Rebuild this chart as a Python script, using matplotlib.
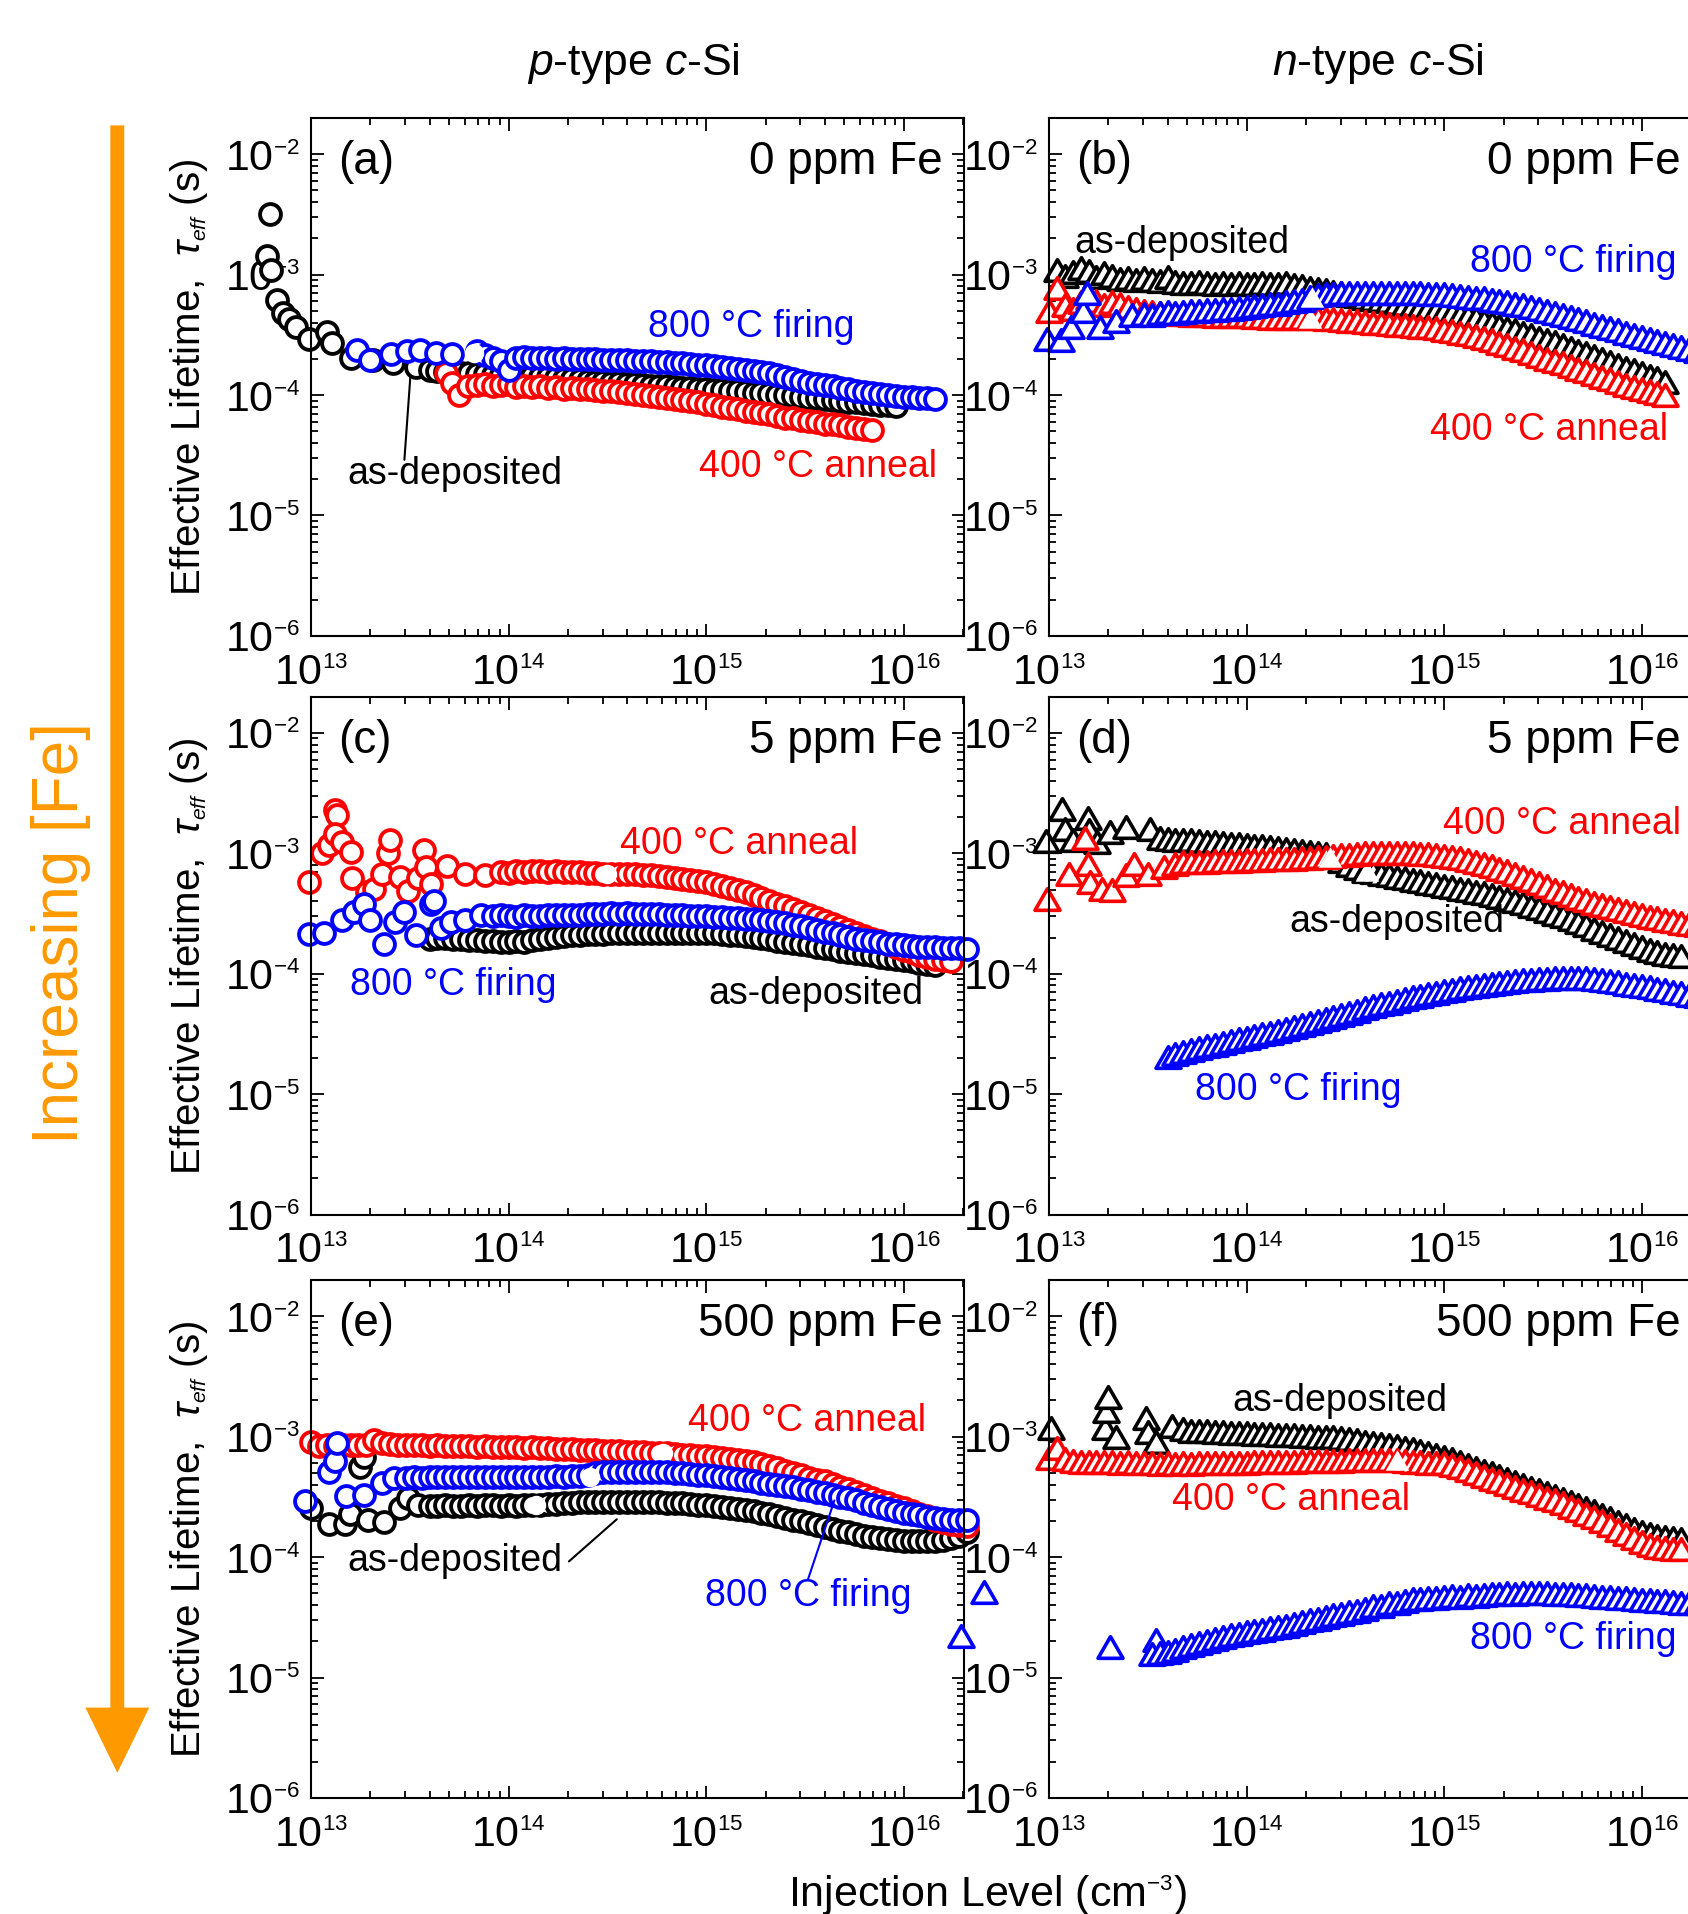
import numpy as np
import matplotlib
matplotlib.use("Agg")
import matplotlib.pyplot as plt
import matplotlib._mathtext as mathtext_internal
from matplotlib.path import Path
from matplotlib.markers import MarkerStyle
from matplotlib.patches import FancyArrowPatch
from matplotlib.ticker import LogLocator, NullFormatter

plt.rcParams['font.family'] = ['Liberation Sans', 'DejaVu Sans']
plt.rcParams['mathtext.fontset'] = 'custom'
plt.rcParams['mathtext.rm'] = 'Liberation Sans'
plt.rcParams['mathtext.it'] = 'Liberation Sans:italic'
plt.rcParams['mathtext.bf'] = 'Liberation Sans:bold'
# smaller exponents, as in the original figure
mathtext_internal.SHRINK_FACTOR = 0.52

# injection levels (cm^-3) of the dense high-injection sweeps
N_grid = [1.000e13, 1.096e13, 1.202e13, 1.318e13, 1.445e13, 1.585e13, 1.738e13, 1.905e13, 2.089e13, 2.291e13,
          2.512e13, 2.754e13, 3.020e13, 3.311e13, 3.631e13, 3.981e13, 4.365e13, 4.786e13, 5.248e13, 5.754e13,
          6.310e13, 6.918e13, 7.586e13, 8.318e13, 9.120e13,
          1.000e14, 1.096e14, 1.202e14, 1.318e14, 1.445e14, 1.585e14, 1.738e14, 1.905e14, 2.089e14, 2.291e14,
          2.512e14, 2.754e14, 3.020e14, 3.311e14, 3.631e14, 3.981e14, 4.365e14, 4.786e14, 5.248e14, 5.754e14,
          6.310e14, 6.918e14, 7.586e14, 8.318e14, 9.120e14,
          1.000e15, 1.096e15, 1.202e15, 1.318e15, 1.445e15, 1.585e15, 1.738e15, 1.905e15, 2.089e15, 2.291e15,
          2.512e15, 2.754e15, 3.020e15, 3.311e15, 3.631e15, 3.981e15, 4.365e15, 4.786e15, 5.248e15, 5.754e15,
          6.310e15, 6.918e15, 7.586e15, 8.318e15, 9.120e15,
          1.000e16, 1.096e16, 1.202e16, 1.318e16, 1.445e16, 1.585e16, 1.738e16, 1.905e16, 2.089e16]

# lifetimes in microseconds; *_N / *_tau = scattered low-injection points,
# *_start / *_hi = dense sweep starting at that injection level on N_grid

# (a) p-type, 0 ppm Fe
a_dep_N = [6.2e12, 6.0e12, 6.3e12, 6.7e12, 7.2e12, 7.7e12, 8.4e12, 9.8e12, 1.21e13, 1.27e13, 1.60e13, 2.05e13, 2.60e13, 3.40e13]
a_dep_tau = [3200, 1430, 1100, 610, 480, 430, 370, 290, 335, 270, 205, 197, 184, 171]
a_dep_start = 3.981e13
a_dep_hi = [160, 158, 156, 155, 153, 152, 150, 149, 147, 146, 145, 147, 143, 144, 141, 140, 138, 137, 135, 133,
            130, 129, 128, 126, 125, 124, 123, 121, 120, 119, 118, 117, 115, 114, 113, 112, 111, 110, 109, 108,
            107, 105, 104, 102, 101, 100, 98, 97, 95, 94, 93, 91, 90, 88, 87, 86, 84, 83, 82, 81]
a_ann_N = [4.8e13, 5.2e13, 5.6e13, 6.25e13]
a_ann_tau = [152, 125, 100, 120]
a_ann_start = 6.918e13
a_ann_hi = [122, 124, 118, 121, 123, 117, 120, 116, 118, 115, 117, 113, 114, 112, 112, 111, 109, 108, 106,
            104, 103, 101, 99, 97, 95, 93, 91, 89, 87, 85, 83, 80, 78, 76, 74, 72, 71, 69, 67,
            65, 64, 62, 61, 60, 58, 57, 56, 54, 53, 52, 51]
a_fir_N = [1.70e13, 1.99e13, 2.55e13, 3.07e13, 3.58e13, 4.31e13, 5.19e13]
a_fir_tau = [235, 197, 219, 232, 238, 222, 219]
a_fir_start = 6.918e13
a_fir_hi = [232, 215, 204, 190, 160, 204, 206, 203, 205, 202, 200, 203, 199, 200, 198, 199, 196, 197, 195,
            194, 192, 193, 190, 189, 187, 185, 184, 182, 179, 176, 173, 170, 167, 163, 160, 157, 154, 151, 147,
            142, 137, 132, 127, 124, 122, 118, 115, 112, 109, 107, 104, 102, 100, 98, 97, 96, 95, 94, 93]
a_fir_joint = (6.65e13, 224)

# (b) n-type, 0 ppm Fe
b_dep_N, b_dep_tau = [], []
b_dep_start = 1.096e13
b_dep_hi = [1100, 980, 1050, 1130, 1080, 950, 1030, 980, 920, 930, 900, 940, 900, 880, 960, 870, 860, 850, 870,
            850, 840, 860, 830, 850, 840, 830, 850, 830, 840, 850, 820, 800, 780, 760, 740, 720, 700, 680, 660,
            645, 630, 615, 600, 585, 570, 555, 540, 525, 510, 495, 480, 465, 450, 435, 415, 395, 378, 362, 346,
            330, 315, 300, 287, 274, 260, 247, 234, 222, 210, 199, 188, 178, 168, 160, 152, 145, 138, 129]
b_ann_N, b_ann_tau = [], []
b_ann_start = 1.000e13
b_ann_hi = [500, 780, 560, 520, 590, 640, 600, 560, 590, 570, 540, 520, 500, 490, 480, 480, 470, 470, 465, 460,
            460, 455, 455, 450, 450, 450, 445, 445, 440, 440, 440, 440, 440, 440, 435, 430, 425, 420, 415, 410,
            405, 400, 395, 390, 385, 380, 375, 370, 365, 360, 350, 340, 330, 320, 308, 296, 284, 272, 260, 248,
            236, 224, 212, 200, 192, 185, 175, 166, 157, 149, 142, 135, 128, 122, 117, 112, 108, 104, 101]
b_ann_joint = (2.09e14, 440)
b_fir_N = [9.8e12, 1.15e13, 1.29e13, 1.48e13, 1.55e13, 1.82e13, 2.19e13, 2.63e13]
b_fir_tau = [290, 285, 370, 500, 700, 370, 410, 460]
b_fir_start = 3.020e13
b_fir_hi = [470, 465, 480, 485, 480, 490, 495, 500, 510, 505, 515, 520, 525, 540, 545, 560, 570, 575,
            590, 600, 610, 650, 680, 690, 695, 700, 700, 705, 705, 710, 710, 710, 705, 705, 700, 700, 695, 690,
            685, 675, 665, 655, 645, 635, 620, 605, 590, 575, 560, 540, 520, 500, 480, 460, 445, 425, 410, 390,
            375, 360, 345, 330, 318, 305, 293, 280, 270, 260, 250, 240, 232, 224]
b_fir_joint = (2.14e14, 650)

# (c) p-type, 5 ppm Fe
c_dep_N, c_dep_tau = [], []
c_dep_start = 3.981e13
c_dep_hi = [195, 198, 200, 196, 194, 192, 190, 188, 186, 185, 184, 186, 182, 190, 195, 198, 202, 205, 208, 210,
            212, 214, 215, 216, 217, 218, 218, 219, 219, 220, 220, 220, 219, 219, 218, 218, 216, 214, 211, 208,
            205, 201, 197, 193, 188, 184, 180, 176, 172, 168, 164, 160, 156, 152, 148, 145, 142, 139, 136, 133,
            130, 127, 124, 121, 119]
c_ann_N = [9.8e12, 1.14e13, 1.23e13, 1.33e13, 1.35e13, 1.33e13, 1.43e13, 1.59e13, 1.62e13, 1.91e13, 2.09e13, 2.29e13,
           2.45e13, 2.51e13, 2.82e13, 3.09e13, 3.47e13, 3.72e13, 3.80e13, 4.07e13, 4.90e13, 6.03e13, 7.59e13]
c_ann_tau = [580, 1000, 1170, 2270, 2100, 1460, 1240, 1030, 620, 480, 510, 680,
             1000, 1290, 640, 490, 620, 1060, 770, 560, 790, 680, 660]
c_ann_start = 9.120e13
c_ann_hi = [700, 690, 720, 700, 710, 720, 700, 710, 705, 700, 695, 690, 690, 680, 680, 680, 675, 670, 665, 655, 645,
            635, 625, 615, 600, 590, 575, 560, 540, 520, 498, 475, 452, 428, 405, 383, 362, 342, 323, 305, 289,
            273, 258, 244, 231, 219, 207, 196, 186, 176, 167, 159, 151, 144, 138, 133, 130, 128]
c_ann_joint = (3.16e14, 680)
c_fir_N = [9.8e12, 1.17e13, 1.43e13, 1.66e13, 1.85e13, 2.00e13, 2.34e13, 2.66e13, 2.95e13, 3.39e13, 4.07e13, 4.17e13,
           4.57e13, 5.13e13, 6.03e13, 7.24e13]
c_fir_tau = [215, 220, 277, 326, 380, 277, 178, 270, 326, 210, 380, 405, 238, 270, 277, 310]
c_fir_start = 8.318e13
c_fir_hi = [300, 305, 300, 298, 305, 300, 303, 305, 308, 306, 310, 308, 312, 315, 313, 318, 316,
            318, 316, 315, 314, 312, 310, 308, 306, 304, 302, 300, 298, 296, 293, 290, 287, 283, 279, 274, 268,
            262, 255, 248, 240, 232, 224, 216, 209, 202, 196, 191, 186, 182, 178, 175, 172, 170, 168, 167, 166,
            165, 164, 163, 162]

# (d) n-type, 5 ppm Fe
d_dep_N = [9.7e12, 1.17e13, 1.20e13, 1.32e13, 1.57e13, 1.60e13, 1.75e13, 2.04e13, 2.45e13, 3.24e13]
d_dep_tau = [1260, 2350, 1600, 1300, 1950, 1550, 1250, 1500, 1660, 1600]
d_dep_start = 3.631e13
d_dep_hi = [1350, 1320, 1300, 1290, 1280, 1270, 1250, 1240, 1220, 1200, 1190, 1170, 1150, 1140, 1120, 1100,
            1080, 1060, 1050, 1030, 1010, 990, 930, 860, 800, 750, 720, 700, 680, 660, 640, 620, 600, 585, 570, 555,
            540, 525, 510, 495, 480, 465, 448, 432, 415, 400, 385, 368, 350, 333, 316, 300, 284, 268, 252, 237,
            223, 210, 198, 186, 175, 166, 158, 152, 147, 143, 140]
d_dep_joint = (4.07e14, 720)
d_ann_N = [9.8e12, 1.26e13, 1.53e13, 1.57e13, 1.62e13, 1.86e13, 2.09e13, 2.45e13, 2.69e13, 3.16e13, 3.80e13]
d_ann_tau = [420, 680, 1350, 820, 580, 510, 500, 660, 820, 680, 770]
d_ann_start = 4.365e13
d_ann_hi = [820, 850, 840, 850, 855, 860, 865, 870, 870, 875, 880, 885, 890, 895, 900, 905, 910, 915, 925,
            930, 945, 960, 975, 990, 1000, 1010, 1015, 1015, 1010, 1005, 1000, 990, 980, 970,
            955, 935, 910, 880, 850, 815, 780, 745, 710, 675, 640, 605, 570, 535, 500,
            475, 450, 428, 408, 390, 373, 357, 343, 330, 318, 307, 297, 288, 280, 272, 265, 258, 252, 246]
d_ann_joint = (2.63e14, 930)
d_fir_N, d_fir_tau = [], []
d_fir_start = 3.981e13
d_fir_hi = [20.4, 21.5, 22.4, 23.3, 24.2, 25.0, 25.8, 26.6, 27.5, 28.5, 29.5, 30.5, 31.5, 32.5, 33.6,
            34.8, 36.0, 37.4, 38.8, 40.3, 42.0, 43.8, 45.6, 47.5, 49.5, 51.5, 53.6, 55.6, 57.6, 59.6,
            61.7, 63.8, 65.8, 67.8, 69.8, 72, 74, 76, 77.5, 79, 80.5, 82, 83.5, 85, 86.5,
            88, 89, 90, 91, 91.5, 92, 92, 92, 91.5, 91, 89, 87, 85, 83, 81, 79, 77, 75, 73, 71, 69, 67, 65, 63]

# (e) p-type, 500 ppm Fe
e_dep_N = [1.00e13, 1.23e13, 1.48e13, 1.58e13, 1.78e13, 1.86e13, 1.95e13, 2.34e13, 2.82e13, 3.09e13, 3.47e13]
e_dep_tau = [254, 190, 190, 230, 560, 680, 204, 197, 254, 310, 270]
e_dep_start = 3.981e13
e_dep_hi = [268, 265, 270, 266, 268, 270, 267, 269, 271, 268, 270, 268, 272, 270, 270, 275, 278, 280, 282, 284,
            285, 286, 287, 287, 288, 288, 288, 287, 286, 285, 283, 281, 279, 276, 273, 270, 266, 262, 257, 252,
            246, 240, 233, 226, 219, 212, 205, 198, 191, 184, 178, 172, 166, 161, 156, 151, 147, 143, 140, 138,
            137, 136, 136, 136, 137, 139, 143, 150, 160]
e_dep_joint = (1.38e14, 270)
e_ann_N, e_ann_tau = [], []
e_ann_start = 1.000e13
e_ann_hi = [910, 830, 860, 840, 855, 850, 845, 860, 930, 880, 870, 860, 850, 855, 845, 840, 845, 835, 840, 830,
            835, 825, 830, 820, 825, 815, 820, 810, 815, 805, 800, 795, 790, 785, 780, 775, 770, 765, 760, 755,
            750, 745, 740, 735, 730, 725, 718, 710, 703, 697, 690, 680, 668, 656, 645, 632, 612, 590, 568, 545,
            522, 500, 478, 456, 438, 425, 405, 385, 365, 345, 327, 310, 294, 280, 268, 255, 243, 230, 218, 205,
            196, 190, 185, 180]
e_ann_joint = (6.03e14, 730)
e_fir_N = [9.3e12, 1.23e13, 1.32e13, 1.36e13, 1.51e13, 1.86e13, 2.29e13, 2.63e13]
e_fir_tau = [290, 510, 630, 880, 320, 330, 410, 450]
e_fir_start = 3.020e13
e_fir_hi = [455, 460, 455, 458, 462, 460, 458, 462, 460, 463, 460, 462, 465, 463, 465, 462, 466, 464,
            466, 468, 465, 470, 472, 480, 500, 505, 510, 510, 512, 512, 512, 510, 510, 505, 500, 495, 490, 483,
            476, 468, 460, 452, 444, 435, 426, 416, 406, 396, 388, 379, 370, 360, 350, 340, 330, 318, 307, 295,
            283, 272, 261, 251, 242, 234, 228, 222, 216, 211, 207, 204, 202, 205]
e_fir_joint = (2.57e14, 460)

# (f) n-type, 500 ppm Fe
f_dep_N = [1.02e13, 1.91e13, 1.95e13, 2.00e13, 2.19e13, 3.09e13, 3.16e13, 3.47e13, 4.17e13]
f_dep_tau = [1180, 1170, 1620, 2120, 1000, 1430, 1100, 910, 1220]
f_dep_start = 4.786e13
f_dep_hi = [1150, 1120, 1110, 1110, 1100, 1090, 1080, 1070, 1070, 1060, 1060, 1050, 1040, 1040, 1030, 1020, 1010, 1000,
            1000, 990, 970, 950, 930, 910, 890, 870, 860, 840, 810, 785, 760, 735, 710, 680, 650, 615, 580, 548,
            520, 495, 470, 445, 420, 398, 378, 358, 340, 322, 305, 288, 271, 255, 240, 225, 210, 196, 183, 172,
            163, 156, 151, 147, 144, 142]
f_ann_N, f_ann_tau = [], []
f_ann_start = 1.000e13
f_ann_hi = [660, 800, 650, 630, 620, 615, 620, 610, 615, 605, 610, 600, 605, 600, 598, 600, 597, 600, 598, 600,
            602, 600, 603, 605, 607, 608, 610, 612, 614, 616, 618, 620, 622, 624, 626, 628, 630, 632, 634, 636,
            638, 640, 642, 642, 640, 630, 620, 612, 605, 600, 600, 585, 560, 530, 500, 472, 448, 425, 402, 382,
            362, 345, 328, 312, 296, 280, 262, 245, 230, 215, 200, 183, 168, 155, 143, 134, 127, 122, 118, 116, 116]
f_ann_joint = (5.75e14, 640)
f_fir_N = [3.6e12, 4.7e12, 2.04e13, 3.47e13]
f_fir_tau = [22, 51, 18, 20.4]
f_fir_start = 3.311e13
f_fir_hi = [15.8, 16.0, 16.3, 17.0, 17.8, 18.5, 19.2, 20.2, 21.0, 21.8, 22.4, 23.0, 23.8, 24.4, 25.0, 25.6, 26.2,
            27.0, 27.8, 28.8, 29.8, 30.8, 31.8, 33.2, 33.8, 35.2, 35.8, 37.0, 39.0, 39.4, 41.4, 41.8,
            43.0, 44.5, 44.6, 46.0, 45.8, 46.2, 47.4, 47.0, 48.2, 47.8, 48.2, 49.4, 49.0, 50.2, 49.7,
            50.0, 50.8, 50.0, 50.6, 49.6, 49.2, 49.6, 48.3, 48.6, 47.3, 46.8, 47.0, 45.8, 45.8, 44.6,
            44.0, 44.2, 43.0, 43.2, 42.2, 41.8, 41.9, 41.2, 41.0]

BLACK, RED, BLUE = '#000000', '#ff0000', '#0000ff'
ORANGE = '#ff9900'
TRI = MarkerStyle(Path([(-1, -0.866), (1, -0.866), (0, 0.866), (-1, -0.866)], closed=True), joinstyle='miter')


def lifetime(ax, N, tau, start, tau_hi, color, tri, joint=None):
    i = int(np.argmin(np.abs(np.log10(N_grid) - np.log10(start))))
    N_hi = N_grid[i:i + len(tau_hi)]
    x = list(N) + list(N_hi)
    y = np.array(list(tau) + list(tau_hi[:len(N_hi)])) * 1e-6
    if tri:
        m, ms, mew = TRI, 18, 2.6
    else:
        m, ms, mew = 'o', 15, 2.8
    ax.plot(x, y, ls='none', marker=m, ms=ms, mfc='white', mec=color, mew=mew, clip_on=False)
    if joint is not None:
        ax.plot([joint[0]], [joint[1] * 1e-6], ls='none', marker=m, ms=ms - 1, mfc='white', mew=0, clip_on=False)


def style(ax, letter, fe):
    ax.set_xscale('log')
    ax.set_yscale('log')
    ax.set_xlim(1e13, 2.02e16)
    ax.set_ylim(1e-6, 2e-2)
    for a in (ax.xaxis, ax.yaxis):
        a.set_major_locator(LogLocator(base=10, numticks=12))
        a.set_minor_locator(LogLocator(base=10, subs=np.arange(2, 10), numticks=12))
        a.set_minor_formatter(NullFormatter())
    ax.tick_params(which='both', direction='in', top=True, right=True, width=1.3, labelsize=31)
    ax.tick_params(axis='x', pad=12)
    ax.tick_params(axis='y', pad=8)
    ax.tick_params(which='major', length=9)
    ax.tick_params(which='minor', length=5)
    for s in ax.spines.values():
        s.set_linewidth(1.5)
    ax.text(0.042, 0.916, letter, transform=ax.transAxes, fontsize=33, ha='left', va='center')
    ax.text(0.968, 0.916, fe, transform=ax.transAxes, fontsize=33, ha='right', va='center')


def label(ax, x, y, s, color):
    ax.text(x, y, s, transform=ax.transAxes, fontsize=27, color=color, ha='center', va='center')


fig = plt.figure(figsize=(16.88, 19.15), dpi=100)
W, H = 0.38685, 0.2705
ax_a = fig.add_axes([0.18424, 0.6674, W, H])
ax_b = fig.add_axes([0.62145, 0.6674, W, H])
ax_c = fig.add_axes([0.18424, 0.3652, W, H])
ax_d = fig.add_axes([0.62145, 0.3652, W, H])
ax_e = fig.add_axes([0.18424, 0.0606, W, H])
ax_f = fig.add_axes([0.62145, 0.0606, W, H])

style(ax_a, '(a)', '0 ppm Fe')
style(ax_b, '(b)', '0 ppm Fe')
style(ax_c, '(c)', '5 ppm Fe')
style(ax_d, '(d)', '5 ppm Fe')
style(ax_e, '(e)', '500 ppm Fe')
style(ax_f, '(f)', '500 ppm Fe')

lifetime(ax_a, a_dep_N, a_dep_tau, a_dep_start, a_dep_hi, BLACK, False)
lifetime(ax_a, a_ann_N, a_ann_tau, a_ann_start, a_ann_hi, RED, False)
lifetime(ax_a, a_fir_N, a_fir_tau, a_fir_start, a_fir_hi, BLUE, False, a_fir_joint)

lifetime(ax_b, b_dep_N, b_dep_tau, b_dep_start, b_dep_hi, BLACK, True)
lifetime(ax_b, b_ann_N, b_ann_tau, b_ann_start, b_ann_hi, RED, True, b_ann_joint)
lifetime(ax_b, b_fir_N, b_fir_tau, b_fir_start, b_fir_hi, BLUE, True, b_fir_joint)

lifetime(ax_c, c_dep_N, c_dep_tau, c_dep_start, c_dep_hi, BLACK, False)
lifetime(ax_c, c_ann_N, c_ann_tau, c_ann_start, c_ann_hi, RED, False, c_ann_joint)
lifetime(ax_c, c_fir_N, c_fir_tau, c_fir_start, c_fir_hi, BLUE, False)

lifetime(ax_d, d_dep_N, d_dep_tau, d_dep_start, d_dep_hi, BLACK, True, d_dep_joint)
lifetime(ax_d, d_ann_N, d_ann_tau, d_ann_start, d_ann_hi, RED, True, d_ann_joint)
lifetime(ax_d, d_fir_N, d_fir_tau, d_fir_start, d_fir_hi, BLUE, True)

lifetime(ax_e, e_dep_N, e_dep_tau, e_dep_start, e_dep_hi, BLACK, False, e_dep_joint)
lifetime(ax_e, e_ann_N, e_ann_tau, e_ann_start, e_ann_hi, RED, False, e_ann_joint)
lifetime(ax_e, e_fir_N, e_fir_tau, e_fir_start, e_fir_hi, BLUE, False, e_fir_joint)

lifetime(ax_f, f_dep_N, f_dep_tau, f_dep_start, f_dep_hi, BLACK, True)
lifetime(ax_f, f_ann_N, f_ann_tau, f_ann_start, f_ann_hi, RED, True, f_ann_joint)
lifetime(ax_f, f_fir_N, f_fir_tau, f_fir_start, f_fir_hi, BLUE, True)

# curve labels
label(ax_a, 0.674, 0.598, '800 °C firing', BLUE)
label(ax_a, 0.777, 0.329, '400 °C anneal', RED)
label(ax_a, 0.220, 0.315, 'as-deposited', BLACK)
ax_a.annotate('', xy=(3.18e13, 1.39e-4), xytext=(2.97e13, 2.9e-5),
              arrowprops=dict(arrowstyle='-', color=BLACK, lw=1.5, shrinkA=0, shrinkB=0))

label(ax_b, 0.204, 0.761, 'as-deposited', BLACK)
label(ax_b, 0.803, 0.723, '800 °C firing', BLUE)
label(ax_b, 0.766, 0.400, '400 °C anneal', RED)

label(ax_c, 0.655, 0.718, '400 °C anneal', RED)
label(ax_c, 0.218, 0.445, '800 °C firing', BLUE)
label(ax_c, 0.773, 0.427, 'as-deposited', BLACK)

label(ax_d, 0.786, 0.756, '400 °C anneal', RED)
label(ax_d, 0.532, 0.566, 'as-deposited', BLACK)
label(ax_d, 0.382, 0.243, '800 °C firing', BLUE)

label(ax_e, 0.760, 0.729, '400 °C anneal', RED)
label(ax_e, 0.220, 0.460, 'as-deposited', BLACK)
label(ax_e, 0.762, 0.391, '800 °C firing', BLUE)
ax_e.annotate('', xy=(3.53e14, 2.06e-4), xytext=(2.02e14, 9.2e-5),
              arrowprops=dict(arrowstyle='-', color=BLACK, lw=1.5, shrinkA=0, shrinkB=0))
ax_e.annotate('', xy=(4.46e15, 2.95e-4), xytext=(3.27e15, 6.45e-5),
              arrowprops=dict(arrowstyle='-', color=BLUE, lw=1.5, shrinkA=0, shrinkB=0))

label(ax_f, 0.446, 0.769, 'as-deposited', BLACK)
label(ax_f, 0.371, 0.578, '400 °C anneal', RED)
label(ax_f, 0.803, 0.309, '800 °C firing', BLUE)

for ax in (ax_a, ax_c, ax_e):
    ax.set_ylabel(r'Effective Lifetime,  $\tau_{eff}$ (s)', fontsize=29, va='center')
    ax.yaxis.set_label_coords(-0.187, 0.5)

fig.text(0.375, 0.967, r'$p$-type $c$-Si', fontsize=32, ha='center', va='center')
fig.text(0.816, 0.967, r'$n$-type $c$-Si', fontsize=32, ha='center', va='center')
fig.text(0.585, 0.004, r'Injection Level (cm$^{-3}$)', fontsize=31, ha='center', va='baseline')

arrow = FancyArrowPatch((0.0695, 0.934), (0.0695, 0.0737), transform=fig.transFigure,
                        arrowstyle='simple,head_length=47,head_width=46,tail_width=10',
                        mutation_scale=1, color=ORANGE, lw=0, shrinkA=0, shrinkB=0)
fig.add_artist(arrow)
fig.text(0.036, 0.513, 'Increasing [Fe]', rotation=90, color=ORANGE, fontsize=46, ha='center', va='center')

fig.savefig('out.png', dpi=100)
